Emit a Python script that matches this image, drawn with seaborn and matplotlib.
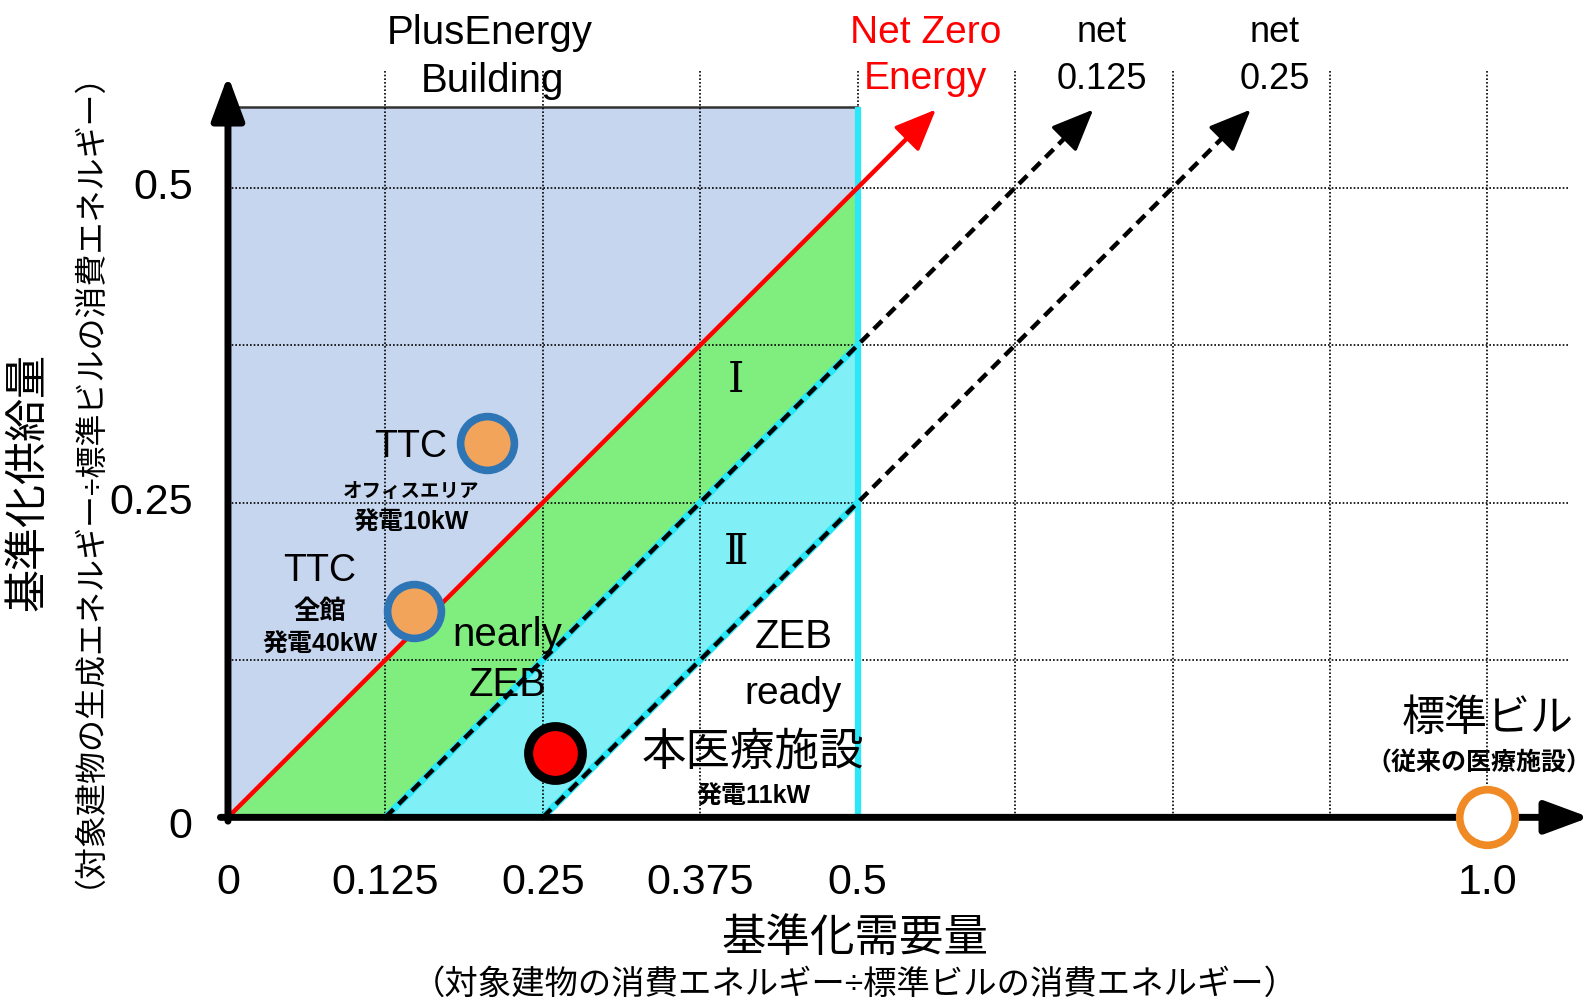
import numpy as np
import pandas as pd
import matplotlib.pyplot as plt
import seaborn as sns

sns.set_theme(style="white")
plt.rcParams['font.family'] = ['Liberation Sans', 'Noto Sans CJK JP', 'DejaVu Sans']

# Chart values
x_grid = [0.125, 0.25, 0.375, 0.5, 0.625, 0.75, 0.875, 1.0]
y_grid = [0.125, 0.25, 0.375, 0.5]
x_ticks = [0, 0.125, 0.25, 0.375, 0.5, 1.0]
x_tick_labels = ['0', '0.125', '0.25', '0.375', '0.5', '1.0']
y_ticks = [0, 0.25, 0.5]
y_tick_labels = ['0', '0.25', '0.5']

net_offsets = [0.0, 0.125, 0.25]          # net zero, net 0.125, net 0.25
zeb_limit = 0.5                           # demand limit of the ZEB zone
plus_top = 0.564                          # top of PlusEnergy area
line_top = 0.562                          # arrow tips

ttc_x = [0.206, 0.148]
ttc_y = [0.297, 0.164]
hospital_x = [0.26]
hospital_y = [0.051]
standard_x = [1.0]
standard_y = [0.0]

fig = plt.figure(figsize=(15.92, 10.05), dpi=100)
ax = fig.add_axes([0, 0, 1, 1])
ax.set_xlim(-0.181, 1.083)
ax.set_ylim(-0.149, 0.649)
ax.axis('off')

# Areas
ax.fill_between([0, zeb_limit], [0, zeb_limit], plus_top, color='#c6d6ee', zorder=1, lw=0)
ax.plot([0, zeb_limit], [plus_top, plus_top], color='#333333', lw=1.8, zorder=2)
band_colors = ['#80ee7e', '#80eff6']
for (a, b), c in zip(zip(net_offsets[:-1], net_offsets[1:]), band_colors):
    xs = np.array([a, b, zeb_limit])
    ax.fill_between(xs, np.clip(xs - b, 0, None), xs - a, color=c, lw=0, zorder=1.5)

# Grid
ax.vlines(x_grid, 0, 0.593, colors='black', linestyles=(0, (1, 1.2)), lw=1.2, zorder=2)
ax.hlines(y_grid, 0, 1.065, colors='black', linestyles=(0, (1, 1.2)), lw=1.2, zorder=2)

# ZEB limit line
ax.vlines([zeb_limit], 0, plus_top, colors='#2ae8f8', lw=4.5, zorder=3)

# Net lines
rows = []
for o in net_offsets:
    rows.append({'x': o, 'y': 0, 'line': o})
    rows.append({'x': line_top + o - 0.012, 'y': line_top - 0.012, 'line': o})
lines = pd.DataFrame(rows)
for o in net_offsets[1:]:
    ax.plot([o, zeb_limit], [0, zeb_limit - o], color='#2ae8f8', lw=5, zorder=3)
sns.lineplot(data=lines[lines['line'] == 0], x='x', y='y', color='red', lw=3.2,
             sort=False, estimator=None, ax=ax, zorder=4)
for o in net_offsets[1:]:
    sns.lineplot(data=lines[lines['line'] == o], x='x', y='y', color='black', lw=3.2,
                 linestyle=(0, (2.6, 1.6)), sort=False, estimator=None, ax=ax, zorder=4)
for o in net_offsets:
    col = 'red' if o == 0 else 'black'
    ax.annotate('', xy=(line_top + o, line_top), xytext=(line_top + o - 0.02, line_top - 0.02),
                arrowprops=dict(arrowstyle='-|>,head_length=1.3,head_width=0.55',
                                color=col, lw=2.5, mutation_scale=20,
                                shrinkA=0, shrinkB=0), zorder=5)

# Axes arrows
ax.annotate('', xy=(0, 0.589), xytext=(0, -0.003),
            arrowprops=dict(arrowstyle='-|>,head_length=1.35,head_width=0.5', color='black',
                            lw=5, mutation_scale=20, shrinkA=0, shrinkB=0), zorder=6)
ax.annotate('', xy=(1.081, 0), xytext=(-0.006, 0),
            arrowprops=dict(arrowstyle='-|>,head_length=1.35,head_width=0.5', color='black',
                            lw=5, mutation_scale=20, shrinkA=0, shrinkB=0), zorder=6)

# Points
sns.scatterplot(x=ttc_x, y=ttc_y, s=1500, color='#f2a55a', edgecolor='#2e75b6',
                linewidth=5.5, ax=ax, zorder=7)
sns.scatterplot(x=hospital_x, y=hospital_y, s=1500, color='#ff0000', edgecolor='black',
                linewidth=6.5, ax=ax, zorder=7)
sns.scatterplot(x=standard_x, y=standard_y, s=1600, color='white', edgecolor='#f08a24',
                linewidth=5.5, ax=ax, zorder=7)

# Tick labels
for v, lab in zip(x_ticks, x_tick_labels):
    ax.text(v, -0.052, lab, ha='center', va='center', fontsize=31, color='black')
for v, lab in zip(y_ticks, y_tick_labels):
    ax.text(-0.028, v - (0.008 if v == 0 else 0), lab, ha='right', va='center',
            fontsize=31, color='black')

def label(x, y, s, size, color='black', **kw):
    ax.text(x, y, s, ha='center', va='center', fontsize=size, color=color, zorder=8, **kw)

label(0.208, 0.623, 'PlusEnergy', 29)
label(0.210, 0.585, 'Building', 29)
label(0.554, 0.623, 'Net Zero', 28, color='#ff0000')
label(0.554, 0.586, 'Energy', 28, color='#ff0000')
label(0.694, 0.623, 'net', 26)
label(0.694, 0.586, '0.125', 26)
label(0.831, 0.623, 'net', 26)
label(0.831, 0.586, '0.25', 26)

label(0.403, 0.347, 'Ⅰ', 30, family=['DejaVu Serif'])
label(0.403, 0.211, 'Ⅱ', 30, family=['DejaVu Serif'])

label(0.145, 0.294, 'TTC', 27)
label(0.145, 0.258, 'オフィスエリア', 14, fontweight='bold')
label(0.145, 0.234, '発電10kW', 18, fontweight='bold')
label(0.073, 0.196, 'TTC', 27)
label(0.073, 0.163, '全館', 19, fontweight='bold')
label(0.073, 0.137, '発電40kW', 18, fontweight='bold')

label(0.222, 0.145, 'nearly', 29)
label(0.222, 0.105, 'ZEB', 29)
label(0.449, 0.143, 'ZEB', 29)
label(0.449, 0.098, 'ready', 28)

label(0.417, 0.051, '本医療施設', 32)
label(0.417, 0.016, '発電11kW', 18, fontweight='bold')
label(1.0, 0.077, '標準ビル', 31)
label(0.993, 0.043, '（従来の医療施設）', 18, fontweight='bold')

# Axis titles
label(0.498, -0.097, '基準化需要量', 32)
label(0.498, -0.133, '（対象建物の消費エネルギー÷標準ビルの消費エネルギー）', 24)
label(-0.158, 0.266, '基準化供給量', 31, rotation=90)
label(-0.123, 0.281, '（対象建物の生成エネルギー÷標準ビルの消費エネルギー）', 23, rotation=90)

fig.savefig('out.png', dpi=100)
